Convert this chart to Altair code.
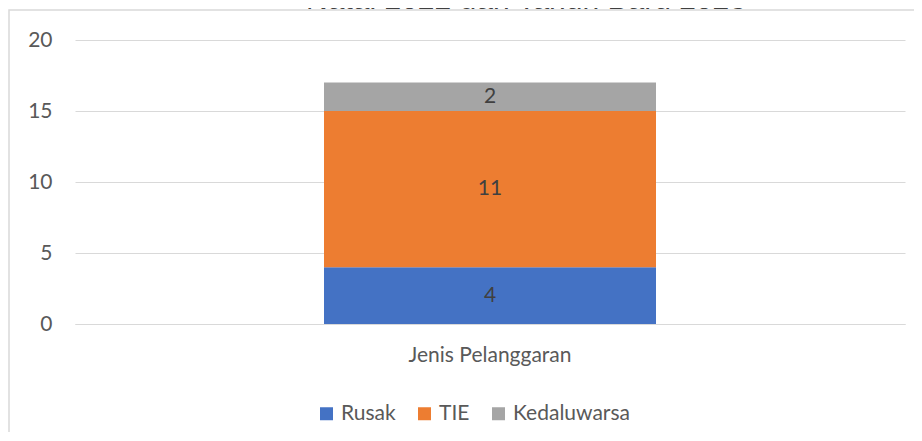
import altair as alt
import pandas as pd

# Data
category = ["Jenis Pelanggaran"]
series = ["Rusak", "TIE", "Kedaluwarsa"]
values = [4, 11, 2]
colors = ["#4472C4", "#ED7D31", "#A5A5A5"]
title_text = "Natal 2022 dan Tahun Baru 2023"
y_ticks = [0, 5, 10, 15, 20]

df = pd.DataFrame({
    "kategori": category * len(series),
    "seri": series,
    "nilai": values,
    "urut": list(range(len(series))),
})

FONT = "Lato"
TXT = "#595959"
FS = 21

W, H = 830, 284

base = alt.Chart(df)

bars = base.mark_bar(width=alt.RelativeBandSize(0.4)).encode(
    x=alt.X("kategori:N",
            scale=alt.Scale(paddingInner=0, paddingOuter=0),
            axis=alt.Axis(title=None, labelAngle=0, domain=True, domainColor="#D9D9D9",
                          grid=False, ticks=False, labelPadding=20, labelFontSize=FS,
                          labelColor=TXT, labelFont=FONT)),
    y=alt.Y("nilai:Q", stack="zero",
            scale=alt.Scale(domain=[0, 20]),
            axis=alt.Axis(title=None, values=y_ticks, domain=False, ticks=False,
                          labelPadding=23, labelFontSize=FS, labelColor=TXT,
                          labelFont=FONT, gridColor="#D9D9D9", gridWidth=1)),
    color=alt.Color("seri:N",
                    scale=alt.Scale(domain=series, range=colors),
                    legend=alt.Legend(title=None, orient="none", direction="horizontal",
                                      legendX=241, legendY=363, symbolType="square",
                                      symbolSize=169, symbolStrokeWidth=0,
                                      labelFontSize=FS, labelFont=FONT, labelColor=TXT,
                                      labelOffset=4, columnPadding=18, padding=0)),
    order=alt.Order("urut:Q"),
)

labels = base.transform_stack(
    stack="nilai", groupby=["kategori"], as_=["y0", "y1"],
    sort=[alt.SortField("urut", order="ascending")]
).transform_calculate(
    ymid="(datum.y0 + datum.y1) / 2"
).mark_text(font=FONT, fontSize=FS, color="#404040", baseline="middle").encode(
    x=alt.X("kategori:N"),
    y=alt.Y("ymid:Q"),
    text=alt.Text("nilai:Q"),
)

frame = alt.Chart(pd.DataFrame({"a": [0]})).mark_rect(
    fill=None, stroke="#D9D9D9", strokeWidth=1.5
).encode(
    x=alt.value(-66), x2=alt.value(900),
    y=alt.value(-30), y2=alt.value(500),
)

title = alt.Chart(pd.DataFrame({"t": [title_text]})).mark_text(
    font="Liberation Sans", fontSize=30, color="#404040",
    align="center", baseline="alphabetic"
).encode(
    x=alt.value(451), y=alt.value(-31), text="t:N"
)

chart = alt.layer(frame, bars, labels, title).properties(
    width=W, height=H,
    background="white",
    autosize=alt.AutoSizeParams(type="none"),
    padding={"left": 67, "top": 32, "right": 9, "bottom": 108},
).configure_view(stroke="transparent", strokeWidth=0)

chart.save("out.html", embed_options={"renderer": "svg", "actions": False})
